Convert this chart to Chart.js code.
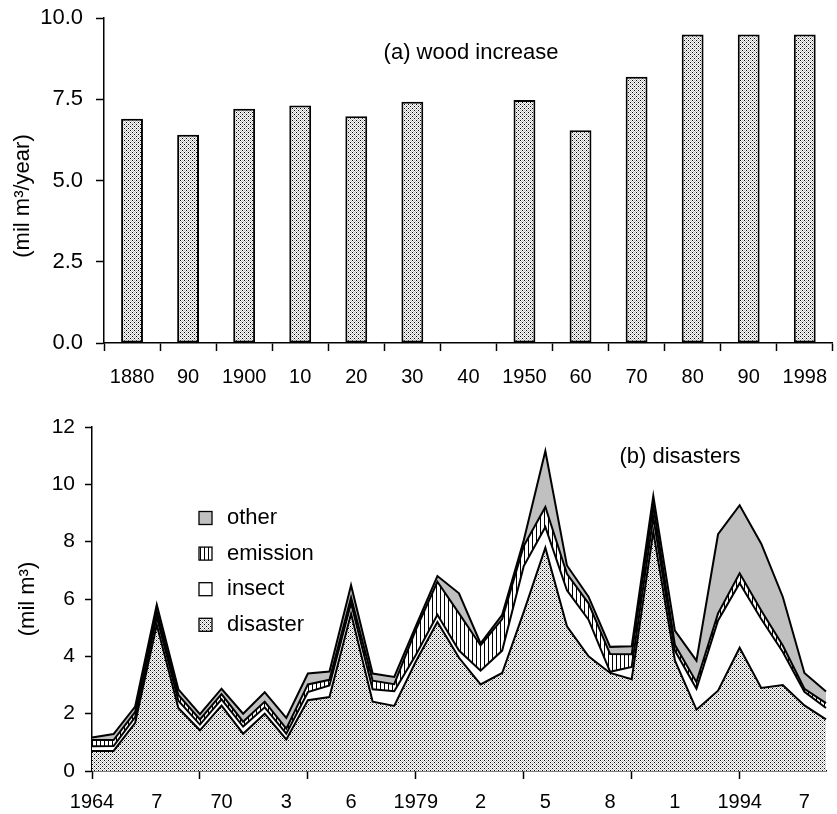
<!DOCTYPE html>
<html>
<head>
<meta charset="utf-8">
<title>Wood increase and disasters</title>
<script src="https://cdn.jsdelivr.net/npm/chart.js@4.4.1/dist/chart.umd.min.js"></script>
<style>
    html, body { margin: 0; padding: 0; background: #fff; overflow: hidden; }
    #woodChart { position: absolute; left: 0; top: 0; }
    #disasterChart { position: absolute; left: 0; top: 400px; }
</style>
</head>
<body>
<canvas id="woodChart" width="841" height="390"></canvas>
<canvas id="disasterChart" width="837" height="414"></canvas>
<script>
// (a) wood increase, mil m3/year
const woodLabels = ['1880', '90', '1900', '10', '20', '30', '40', '1950', '60', '70', '80', '90', '1998'];
const woodIncrease = [6.90, 6.41, 7.21, 7.31, 6.98, 7.42, null, 7.48, 6.55, 8.19, 9.49, 9.49, 9.49];

// (b) disasters, mil m3, one value per year 1964-1998
const years = [1964, 1965, 1966, 1967, 1968, 1969, 1970, 1971, 1972, 1973, 1974, 1975,
    1976, 1977, 1978, 1979, 1980, 1981, 1982, 1983, 1984, 1985, 1986, 1987,
    1988, 1989, 1990, 1991, 1992, 1993, 1994, 1995, 1996, 1997, 1998];
const disaster = [0.70, 0.70, 1.68, 5.10, 2.20, 1.42, 2.28, 1.30, 2.00, 1.10, 2.47, 2.58,
    5.49, 2.42, 2.27, 3.82, 5.20, 3.95, 3.02, 3.42, 5.55, 7.79, 5.05, 4.00,
    3.42, 3.20, 8.35, 3.86, 2.14, 2.80, 4.30, 2.90, 3.00, 2.29, 1.80];
const insect = [0.16, 0.17, 0.20, 0.28, 0.25, 0.20, 0.22, 0.25, 0.22, 0.20, 0.28, 0.40,
    0.36, 0.43, 0.51, 0.23, 0.25, 0.25, 0.48, 0.78, 1.60, 0.72, 1.25, 1.28,
    0.04, 0.43, 0.50, 0.34, 0.73, 2.45, 2.25, 2.40, 1.15, 0.47, 0.40];
const emission = [0.22, 0.21, 0.18, 0.19, 0.20, 0.18, 0.18, 0.17, 0.20, 0.18, 0.27, 0.20,
    0.20, 0.30, 0.25, 0.87, 1.15, 1.30, 0.88, 1.10, 0.70, 0.70, 0.58, 0.57,
    0.62, 0.44, 0.40, 0.20, 0.23, 0.25, 0.35, 0.30, 0.23, 0.11, 0.17];
const other = [0.09, 0.21, 0.19, 0.23, 0.20, 0.18, 0.19, 0.28, 0.33, 0.37, 0.38, 0.29,
    0.43, 0.25, 0.25, 0.13, 0.20, 0.70, 0.07, 0.15, 0.20, 1.95, 0.29, 0.23,
    0.25, 0.28, 0.35, 0.50, 0.75, 2.76, 2.37, 2.33, 1.69, 0.55, 0.40];

// x labels of panel (b): every third year, short form
const labelYears = [1964, 1967, 1970, 1973, 1976, 1979, 1982, 1985, 1988, 1991, 1994, 1997];
const labelTexts = ['1964', '7', '70', '3', '6', '1979', '2', '5', '8', '1', '1994', '7'];

const FONT = "'Liberation Sans', Arial, sans-serif";

function makePattern(size, paint) {
    const tile = document.createElement('canvas');
    tile.width = size;
    tile.height = size;
    paint(tile.getContext('2d'));
    return tile.getContext('2d').createPattern(tile, 'repeat');
}

// fine stipple used for bars and the "disaster" layer
const stipple = makePattern(4, (c) => {
    c.fillStyle = '#fff';
    c.fillRect(0, 0, 4, 4);
    for (let y = 0; y < 4; y++) {
        for (let x = 0; x < 4; x++) {
            if ((x + y) % 2 === 0) {
                c.fillStyle = '#bdbdbd';
                c.fillRect(x, y, 1, 1);
            }
        }
    }
    c.fillStyle = '#000';
    c.fillRect(0, 0, 1, 1);
    c.fillRect(2, 2, 1, 1);
});

// vertical hatching for "emission"
const hatch = makePattern(4, (c) => {
    c.fillStyle = '#fff';
    c.fillRect(0, 0, 4, 4);
    c.fillStyle = '#000';
    c.fillRect(0, 0, 1, 4);
});

const notes = {
    id: 'notes',
    afterDraw(chart, args, opts) {
        const ctx = chart.ctx;
        ctx.save();
        ctx.fillStyle = '#000';
        ctx.font = `${opts.size}px ${FONT}`;
        ctx.textAlign = 'center';
        ctx.textBaseline = 'middle';
        ctx.fillText(opts.label, opts.labelX, opts.labelY);
        ctx.translate(opts.titleX, opts.titleY);
        ctx.rotate(-Math.PI / 2);
        ctx.fillText(opts.title, 0, 0);
        ctx.restore();
    },
};

const boxLegend = {
    id: 'boxLegend',
    afterDraw(chart, args, opts) {
        if (!opts.show) {
            return;
        }
        const ctx = chart.ctx;
        const sets = chart.data.datasets.slice().reverse();
        ctx.save();
        ctx.font = `${opts.size}px ${FONT}`;
        ctx.textAlign = 'left';
        ctx.textBaseline = 'middle';
        sets.forEach((ds, i) => {
            const y = opts.y + i * opts.gap;
            ctx.fillStyle = ds.backgroundColor;
            ctx.fillRect(opts.x, y - 6.5, 13, 13);
            ctx.lineWidth = 1.3;
            ctx.strokeStyle = '#000';
            ctx.strokeRect(opts.x, y - 6.5, 13, 13);
            ctx.fillStyle = '#000';
            ctx.fillText(ds.label, opts.x + 28, y);
        });
        ctx.restore();
    },
};

Chart.register(notes, boxLegend);

const axisLine = { color: '#000', width: 1.5 };

new Chart(document.getElementById('woodChart'), {
    type: 'bar',
    data: {
        labels: woodLabels,
        datasets: [{
            data: woodIncrease,
            backgroundColor: stipple,
            borderColor: '#000',
            borderWidth: 2,
            borderSkipped: false,
            barPercentage: 0.39,
            categoryPercentage: 1,
        }],
    },
    options: {
        responsive: false,
        animation: false,
        devicePixelRatio: 1,
        layout: { padding: { top: 18, right: 0, bottom: 0, left: 0 } },
        plugins: {
            legend: { display: false },
            tooltip: { enabled: false },
            notes: {
                size: 22,
                label: '(a) wood increase',
                labelX: 471,
                labelY: 53,
                title: '(mil m³/year)',
                titleX: 23,
                titleY: 196,
            },
            boxLegend: { show: false },
        },
        scales: {
            x: {
                afterFit: (s) => { s.height = 47; },
                grid: { offset: true, drawOnChartArea: false, tickLength: 8, tickColor: '#000', tickWidth: 1.5 },
                border: axisLine,
                ticks: { color: '#000', font: { family: FONT, size: 20 }, padding: 14, autoSkip: false, maxRotation: 0 },
            },
            y: {
                min: 0,
                max: 10,
                afterFit: (s) => {
                    s.width = 104;
                    s.paddingTop = 0;
                    s.paddingBottom = 0;
                },
                grid: { drawOnChartArea: false, tickLength: 8, tickColor: '#000', tickWidth: 1.5 },
                border: axisLine,
                ticks: {
                    stepSize: 2.5,
                    color: '#000',
                    font: { family: FONT, size: 22 },
                    padding: 13,
                    callback: (v) => v.toFixed(1),
                },
            },
        },
    },
});

const layer = (label, values, fill, background) => ({
    label,
    data: values,
    fill,
    backgroundColor: background,
    borderColor: '#000',
    borderWidth: 2,
    pointRadius: 0,
    tension: 0,
});

new Chart(document.getElementById('disasterChart'), {
    type: 'line',
    data: {
        labels: years,
        datasets: [
            layer('disaster', disaster, 'origin', stipple),
            layer('insect', insect, '-1', '#fff'),
            layer('emission', emission, '-1', hatch),
            layer('other', other, '-1', '#c0c0c0'),
        ],
    },
    options: {
        responsive: false,
        animation: false,
        devicePixelRatio: 1,
        layout: { padding: { top: 27, right: 6, bottom: 0, left: 0 } },
        plugins: {
            legend: { display: false },
            tooltip: { enabled: false },
            notes: {
                size: 22,
                label: '(b) disasters',
                labelX: 680,
                labelY: 57,
                title: '(mil m³)',
                titleX: 28,
                titleY: 199,
            },
            boxLegend: { show: true, size: 22, x: 199, y: 118, gap: 35.6 },
        },
        scales: {
            x: {
                afterFit: (s) => { s.height = 43; },
                grid: {
                    drawOnChartArea: false,
                    tickLength: 8,
                    tickWidth: 1.5,
                    tickColor: (ctx) => (ctx.index % 5 === 0 ? '#000' : 'rgba(0,0,0,0)'),
                },
                border: axisLine,
                ticks: {
                    color: '#000',
                    font: { family: FONT, size: 20 },
                    padding: 11,
                    autoSkip: false,
                    maxRotation: 0,
                    callback: (v, i) => {
                        const k = labelYears.indexOf(years[i]);
                        return k >= 0 ? labelTexts[k] : '';
                    },
                },
            },
            y: {
                stacked: true,
                min: 0,
                max: 12,
                afterFit: (s) => { s.width = 92; },
                grid: { drawOnChartArea: false, tickLength: 7, tickColor: '#000', tickWidth: 1.5 },
                border: axisLine,
                ticks: { stepSize: 2, color: '#000', font: { family: FONT, size: 21 }, padding: 10 },
            },
        },
    },
});
</script>
</body>
</html>
